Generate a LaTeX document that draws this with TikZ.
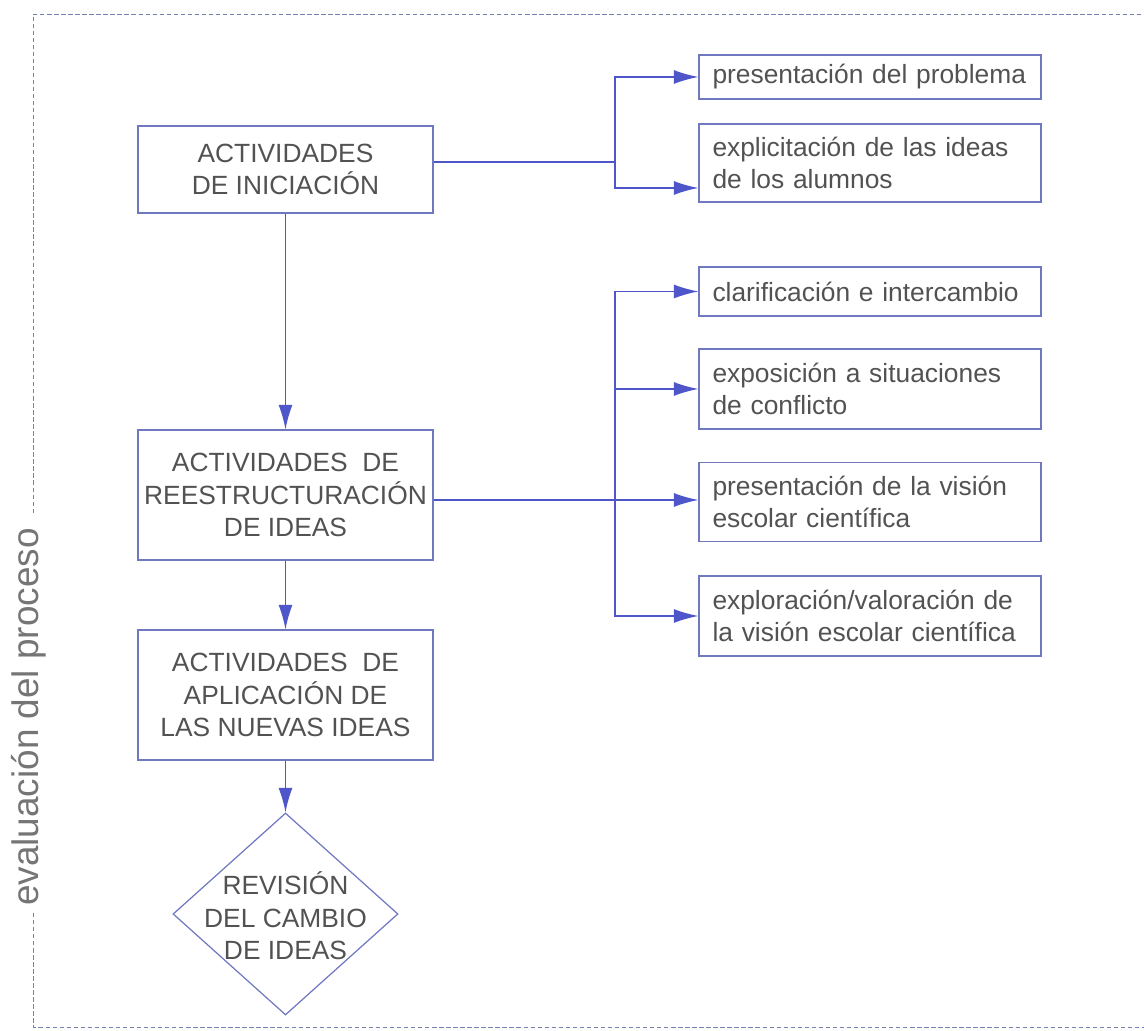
\documentclass[tikz,border=0pt]{standalone}
\usepackage{fontspec}
\setmainfont{Liberation Sans}
\usepackage{tikz}
\usetikzlibrary{arrows.meta, shapes.geometric, positioning, calc}
\definecolor{flowblue}{RGB}{78, 86, 202}
\definecolor{boxblue}{RGB}{112, 120, 192}
\definecolor{framegray}{RGB}{122, 128, 178}
\definecolor{textgray}{RGB}{82, 82, 82}

\tikzset{
  actbox/.style={draw=boxblue, line width=0.7pt, minimum width=5.9cm, inner sep=0.5mm,
                 align=center, text=textgray, font=\fontsize{15}{18.5}\selectfont},
  subbox/.style={draw=boxblue, line width=0.7pt, text width=6.3cm, inner xsep=0.27cm,
                 inner ysep=1mm, align=left, text=textgray, font=\fontsize{15}{18.5}\selectfont},
  flow/.style={draw=flowblue, line width=0.8pt, -{Latex[length=14pt,width=8pt]}},
  link/.style={draw=flowblue, line width=0.8pt},
  frame/.style={draw=framegray, line width=0.5pt, dash pattern=on 2.5pt off 1.5pt},
}

\begin{document}
\begin{tikzpicture}

\useasboundingbox (0,0) rectangle (22.88,20.62);

% Dashed frame, open on the right, broken for the side label
\draw[frame] (0.66,10.36) -- (0.66,20.34) -- (22.88,20.34);
\draw[frame] (0.66,2.36) -- (0.66,0.08) -- (22.88,0.08);
\node[rotate=90, anchor=base, inner sep=0pt, text=textgray!80,
      font=\fontsize{21}{25}\selectfont] (evalnote) at (0.76,6.28) {evaluación del proceso};

% Main column
\node[actbox, minimum height=1.74cm] (init)  at (5.71,17.23) {ACTIVIDADES\\DE INICIACIÓN};
\node[actbox, minimum height=2.6cm]  (restr) at (5.71,10.72) {ACTIVIDADES~ DE\\REESTRUCTURACIÓN\\DE IDEAS};
\node[actbox, minimum height=2.6cm]  (aplic) at (5.71,6.72)  {ACTIVIDADES~ DE\\APLICACIÓN DE\\LAS NUEVAS IDEAS};
\node[diamond, draw=boxblue, line width=0.7pt, inner sep=0pt,
      minimum width=4.5cm, minimum height=4.04cm] (revision) at (5.71,2.34) {};
\node[align=center, text=textgray, font=\fontsize{15}{18.5}\selectfont] (revtxt) at (5.71,2.3)
     {REVISIÓN\\DEL CAMBIO\\DE IDEAS};

\draw[flow] (init.south) -- (restr.north);
\draw[flow] (restr.south) -- (aplic.north);
\draw[flow] (aplic.south) -- (revision.north);

% Initiation sub-activities
\node[subbox, minimum height=0.88cm] (probl) at (17.4,19.08) {presentación del problema};
\node[subbox, minimum height=1.56cm] (ideas) at (17.4,17.36) {explicitación de las ideas\\de los alumnos};

\coordinate (fork1) at (12.3,17.38);
\draw[link] (init.east |- fork1) -- (fork1);
\draw[flow] (fork1) |- (probl.west);
\draw[flow] (fork1) |- ([yshift=-0.5cm]ideas.west);

% Restructuring sub-activities
\node[subbox, minimum height=0.98cm] (clarif)    at (17.4,14.79) {clarificación e intercambio};
\node[subbox, minimum height=1.6cm]  (conflicto) at (17.4,12.84) {exposición a situaciones\\de conflicto};
\node[subbox, minimum height=1.58cm] (vision)    at (17.4,10.58) {presentación de la visión\\escolar científica};
\node[subbox, minimum height=1.6cm]  (explor)    at (17.4,8.30)  {exploración/valoración de\\la visión escolar científica};

\coordinate (fork2) at (12.3,10.62);
\draw[link] (restr.east |- fork2) -- (fork2);
\draw[flow] (fork2) |- (clarif.west);
\draw[flow] (fork2) |- (conflicto.west);
\draw[flow] (fork2) -- (fork2 -| vision.west);
\draw[flow] (fork2) |- (explor.west);

\end{tikzpicture}
\end{document}
